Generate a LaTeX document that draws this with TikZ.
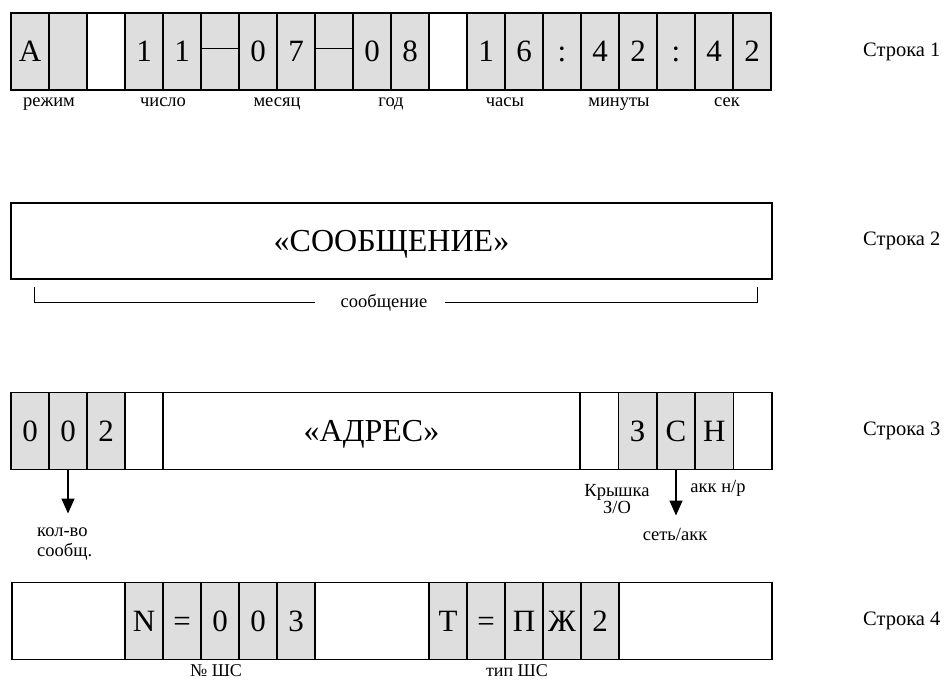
\documentclass[tikz,border=0pt]{standalone}
\usepackage{fontspec}
\setmainfont{Liberation Serif}
\usetikzlibrary{arrows.meta,positioning}
\definecolor{CellGray}{HTML}{DEDEDE}
\newcommand{\cellfont}{\fontsize{31}{31}\selectfont}
\newcommand{\capfont}{\fontsize{32}{32}\selectfont}
\newcommand{\lblfont}{\fontsize{18.5}{20}\selectfont}
\newcommand{\rowfont}{\fontsize{20.5}{21}\selectfont}

\begin{document}
\begin{tikzpicture}[x=1pt,y=-1pt,
  cell/.style={draw,fill=CellGray,line width=1.6pt,minimum width=38pt,
               minimum height=77pt,inner sep=0pt,outer sep=0pt,font=\cellfont,
               text height=21pt,text depth=0pt},
  blank/.style={cell,fill=white},
  lbl/.style={font=\lblfont,inner sep=0pt,align=center},
  rowlbl/.style={font=\rowfont,anchor=west,inner sep=0pt},
  arr/.style={-{Triangle[length=15pt,width=13pt]},line width=1.6pt},
  brk/.style={line width=0.9pt}
]
  \useasboundingbox (0,0) rectangle (944,682);

  % Строка 1
  \begin{scope}[every node/.append style={minimum width=38.05pt}]
  \node[cell] (a1) at (30,51.5) {A};
  \node[cell, right=0pt of a1]  (a2)  {};
  \node[blank, right=0pt of a2] (a3)  {};
  \node[cell, right=0pt of a3]  (a4)  {1};
  \node[cell, right=0pt of a4]  (a5)  {1};
  \node[cell, right=0pt of a5]  (a6)  {};
  \node[cell, right=0pt of a6]  (a7)  {0};
  \node[cell, right=0pt of a7]  (a8)  {7};
  \node[cell, right=0pt of a8]  (a9)  {};
  \node[cell, right=0pt of a9]  (a10) {0};
  \node[cell, right=0pt of a10] (a11) {8};
  \node[blank, right=0pt of a11] (a12) {};
  \node[cell, right=0pt of a12] (a13) {1};
  \node[cell, right=0pt of a13] (a14) {6};
  \node[cell, right=0pt of a14] (a15) {:};
  \node[cell, right=0pt of a15] (a16) {4};
  \node[cell, right=0pt of a16] (a17) {2};
  \node[cell, right=0pt of a17] (a18) {:};
  \node[cell, right=0pt of a18] (a19) {4};
  \node[cell, right=0pt of a19] (a20) {2};
  \end{scope}
  \draw[line width=1.2pt] ([yshift=3pt]a6.west) -- ([yshift=3pt]a6.east);
  \draw[line width=1.2pt] ([yshift=3pt]a9.west) -- ([yshift=3pt]a9.east);

  \node[lbl, below=8pt of a1.south east]  (mode)  {режим};
  \node[lbl, below=8pt of a4.south east]  (day)   {число};
  \node[lbl, below=8pt of a7.south east]  (month) {месяц};
  \node[lbl, below=8pt of a10.south east] (year)  {год};
  \node[lbl, below=8pt of a13.south east] (hour)  {часы};
  \node[lbl, below=8pt of a16.south east] (min)   {минуты};
  \node[lbl, below=8pt of a19.south east, xshift=-6pt] (sec) {сек};

  % Строка 2
  \node[blank, minimum width=761pt, minimum height=76pt, font=\capfont]
        (msgbox) at (391.5,241) {«СООБЩЕНИЕ»};
  \node[lbl, anchor=base] (msg) at (384,307) {сообщение};
  \coordinate (bl)  at (34,287);
  \coordinate (br)  at (757,287);
  \coordinate (bml) at (315,302);
  \coordinate (bmr) at (445,302);
  \draw[brk] (bl) |- (bml);
  \draw[brk] (bmr) -| (br);

  % Строка 3
  \node[cell] (b1) at (30,431) {0};
  \node[cell, right=0pt of b1]  (b2) {0};
  \node[cell, right=0pt of b2]  (b3) {2};
  \node[blank, right=0pt of b3] (b4) {};
  \node[blank, right=0pt of b4, minimum width=417pt, font=\capfont] (adr) {«АДРЕС»};
  \node[blank, right=0pt of adr, minimum width=38.4pt] (b5) {};
  \node[cell, right=0pt of b5, minimum width=38.4pt]   (b6) {З};
  \node[cell, right=0pt of b6, minimum width=38.4pt]   (b7) {С};
  \node[cell, right=0pt of b7, minimum width=38.4pt]   (b8) {Н};
  \node[blank, right=0pt of b8, minimum width=38.4pt]  (b9) {};

  \coordinate[below=44pt of b2.south] (b2tip);
  \draw[arr] (b2.south) -- (b2tip);
  \node[lbl, align=left, anchor=north west] (cnt) at (37,528) {кол-во\\сообщ.};

  \coordinate[below=46pt of b7.south] (b7tip);
  \draw[arr] (b7.south) -- (b7tip);
  \node[lbl, font=\fontsize{18.5}{17}\selectfont] (lid) at (617,499) {Крышка\\З/О};
  \node[lbl] (batt) at (718,488) {акк н/р};
  \node[lbl] (net)  at (675,534) {сеть/акк};

  % Строка 4
  \node[blank, minimum width=113pt] (c0) at (68.5,621) {};
  \node[cell, right=0pt of c0]  (c1)  {N};
  \node[cell, right=0pt of c1]  (c2)  {=};
  \node[cell, right=0pt of c2]  (c3)  {0};
  \node[cell, right=0pt of c3]  (c4)  {0};
  \node[cell, right=0pt of c4]  (c5)  {3};
  \node[blank, right=0pt of c5, minimum width=114pt] (c6) {};
  \node[cell, right=0pt of c6]  (c7)  {Т};
  \node[cell, right=0pt of c7]  (c8)  {=};
  \node[cell, right=0pt of c8]  (c9)  {П};
  \node[cell, right=0pt of c9]  (c10) {Ж};
  \node[cell, right=0pt of c10] (c11) {2};
  \node[blank, right=0pt of c11, minimum width=153pt] (c12) {};

  \node[lbl, font=\fontsize{18}{18}\selectfont, below=5pt of c3, xshift=-4pt] (nloop) {№ ШС};
  \node[lbl, font=\fontsize{18}{18}\selectfont, below=5pt of c9, xshift=-7pt] (tloop) {тип ШС};

  % подписи строк
  \node[rowlbl] (r1) at (863,51.5) {Строка 1};
  \node[rowlbl] (r2) at (863,241)  {Строка 2};
  \node[rowlbl] (r3) at (863,431)  {Строка 3};
  \node[rowlbl] (r4) at (863,621)  {Строка 4};
\end{tikzpicture}
\end{document}
